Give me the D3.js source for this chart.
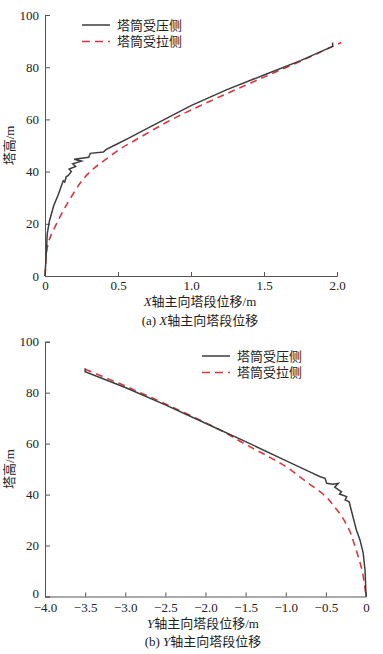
<!DOCTYPE html>
<html><head><meta charset="utf-8">
<script src="https://cdn.jsdelivr.net/npm/d3@7"></script>
<style>
body{margin:0;background:#fff;}
</style></head><body>
<svg id="c" width="383" height="654"></svg>
<script>
// ---- data ----
const seriesNames = ["塔筒受压侧", "塔筒受拉侧"];
// (a) X direction: [displacement m, height m]
const xCompression = [[0,0],[0.005,5],[0.01,10],[0.015,16],[0.03,21],[0.06,27],[0.09,31],[0.115,35],[0.125,36.5],[0.135,36],[0.145,38],[0.16,38.5],[0.18,40],[0.165,41],[0.21,42],[0.19,43],[0.25,44],[0.2,44.7],[0.3,45.5],[0.31,47],[0.4,47.5],[0.42,48.5],[0.48,50.2],[0.58,53],[0.75,58],[1.0,65.3],[1.25,71.5],[1.5,77],[1.75,82.5],[1.97,88],[1.97,89.5]];
const xTension = [[0,0],[0.005,4],[0.01,9],[0.03,14],[0.07,19],[0.12,24.5],[0.17,29.4],[0.26,37],[0.33,41],[0.4,44],[0.51,48.5],[0.62,52.1],[0.75,56.3],[0.87,60],[1.0,63.6],[1.25,70],[1.5,76.2],[1.75,82.3],[2.03,89.5]];
// (b) Y direction
const yCompression = [[-3.5,89.6],[-3.5,88.2],[-3.0,82],[-2.5,75.2],[-2.0,68],[-1.5,60.8],[-1.0,53.3],[-0.68,48.6],[-0.57,47],[-0.51,46.4],[-0.49,44.4],[-0.41,44.1],[-0.345,44.4],[-0.39,42.9],[-0.305,41.1],[-0.33,40.2],[-0.24,39.2],[-0.26,37.9],[-0.21,37.2],[-0.2,35.9],[-0.16,31],[-0.12,26.1],[-0.075,22.2],[-0.035,17],[-0.012,10.4],[-0.005,5],[0,0]];
const yTension = [[-3.5,89.2],[-3.0,82.6],[-2.5,75.6],[-2.0,68.2],[-1.75,64.2],[-1.5,59.7],[-1.25,55.5],[-1.0,51],[-0.75,45.2],[-0.5,39.2],[-0.4,35.5],[-0.3,31.3],[-0.2,25.5],[-0.15,21],[-0.1,16],[-0.05,10.4],[-0.02,5],[0,0]];
const xTicksA = [0,0.5,1.0,1.5,2.0];
const xTicksB = [-4.0,-3.5,-3.0,-2.5,-2.0,-1.5,-1.0,-0.5,0];
const yTicks = [0,20,40,60,80,100];

const FONT = "'Liberation Serif','Noto Sans CJK SC',serif";
const svg = d3.select("#c");

function panel(o){
  const g = svg.append("g").attr("font-family",FONT);
  const x = d3.scaleLinear().domain(o.xDomain).range([o.left,o.right]);
  const y = d3.scaleLinear().domain([0,100]).range([o.bottom,o.top]);
  const xa = g.append("g").attr("transform",`translate(0,${o.bottom})`)
    .call(d3.axisBottom(x).tickValues(o.xTicks).tickSize(-4).tickPadding(o.xPad)
      .tickFormat(o.fmt));
  const ya = g.append("g").attr("transform",`translate(${o.left},0)`)
    .call(d3.axisLeft(y).tickValues(yTicks).tickSize(-5).tickPadding(6));
  [xa,ya].forEach(a=>{
    a.attr("font-family",FONT);
    a.selectAll("path,line").attr("stroke","#555").attr("stroke-width",1);
    a.selectAll("text").attr("font-size",13).attr("fill","#222").attr("font-family",FONT);
  });
  if (o.nudgeZero) ya.selectAll(".tick").filter(d=>d===0).select("text").attr("y",-3);
  const line = d3.line().x(d=>x(d[0])).y(d=>y(d[1]));
  const smooth = d3.line().x(d=>x(d[0])).y(d=>y(d[1])).curve(d3.curveCatmullRom);
  g.append("path").datum(o.tension).attr("d",smooth).attr("fill","none")
    .attr("stroke","#d7383f").attr("stroke-width",1.6).attr("stroke-dasharray","7,5");
  g.append("path").datum(o.compression).attr("d",line).attr("fill","none")
    .attr("stroke","#3d3d3d").attr("stroke-width",1.5);
  // legend
  const lg = g.append("g");
  seriesNames.forEach((n,i)=>{
    const ly = o.legY + i*16.5;
    lg.append("line").attr("x1",o.legX).attr("x2",o.legX+28).attr("y1",ly).attr("y2",ly)
      .attr("stroke", i===0?"#3d3d3d":"#d7383f").attr("stroke-width",i===0?1.5:1.6)
      .attr("stroke-dasharray", i===0?null:"8,5");
    lg.append("text").attr("x",o.legX+35).attr("y",ly+4.5).attr("font-size",13).attr("fill","#222").text(n);
  });
  // y label
  g.append("text").attr("transform",`translate(${o.left-31},${(o.top+o.bottom)/2}) rotate(-90)`)
    .attr("text-anchor","middle").attr("font-size",13).attr("fill","#222").text("塔高/m");
  // x label
  const t = g.append("text").attr("x",o.labelX).attr("y",o.labelY).attr("text-anchor","middle").attr("font-size",13).attr("fill","#222");
  t.append("tspan").attr("font-style","italic").text(o.axisLetter);
  t.append("tspan").text("轴主向塔段位移/m");
  const c = g.append("text").attr("x",o.labelX).attr("y",o.capY).attr("text-anchor","middle").attr("font-size",13).attr("fill","#222");
  c.append("tspan").text(o.capPrefix);
  c.append("tspan").attr("font-style","italic").text(o.axisLetter);
  c.append("tspan").text("轴主向塔段位移");
}

panel({xDomain:[0,2], left:45, right:337, top:15, bottom:276, xTicks:xTicksA, xPad:5,
  fmt:d=>d===0?"0":d3.format(".1f")(d),
  compression:xCompression, tension:xTension, legX:82, legY:25,
  axisLetter:"X", labelX:200, labelY:306, capY:325, capPrefix:"(a) "});
panel({xDomain:[-4,0], left:45, right:366, top:341.7, bottom:596.5, xTicks:xTicksB, xPad:6,
  fmt:d=>d===0?"0":d3.format(".1f")(d).replace("-","\u2212"), nudgeZero:true,
  compression:yCompression, tension:yTension, legX:202, legY:356,
  axisLetter:"Y", labelX:203, labelY:628, capY:646, capPrefix:"(b) "});
</script></body></html>
